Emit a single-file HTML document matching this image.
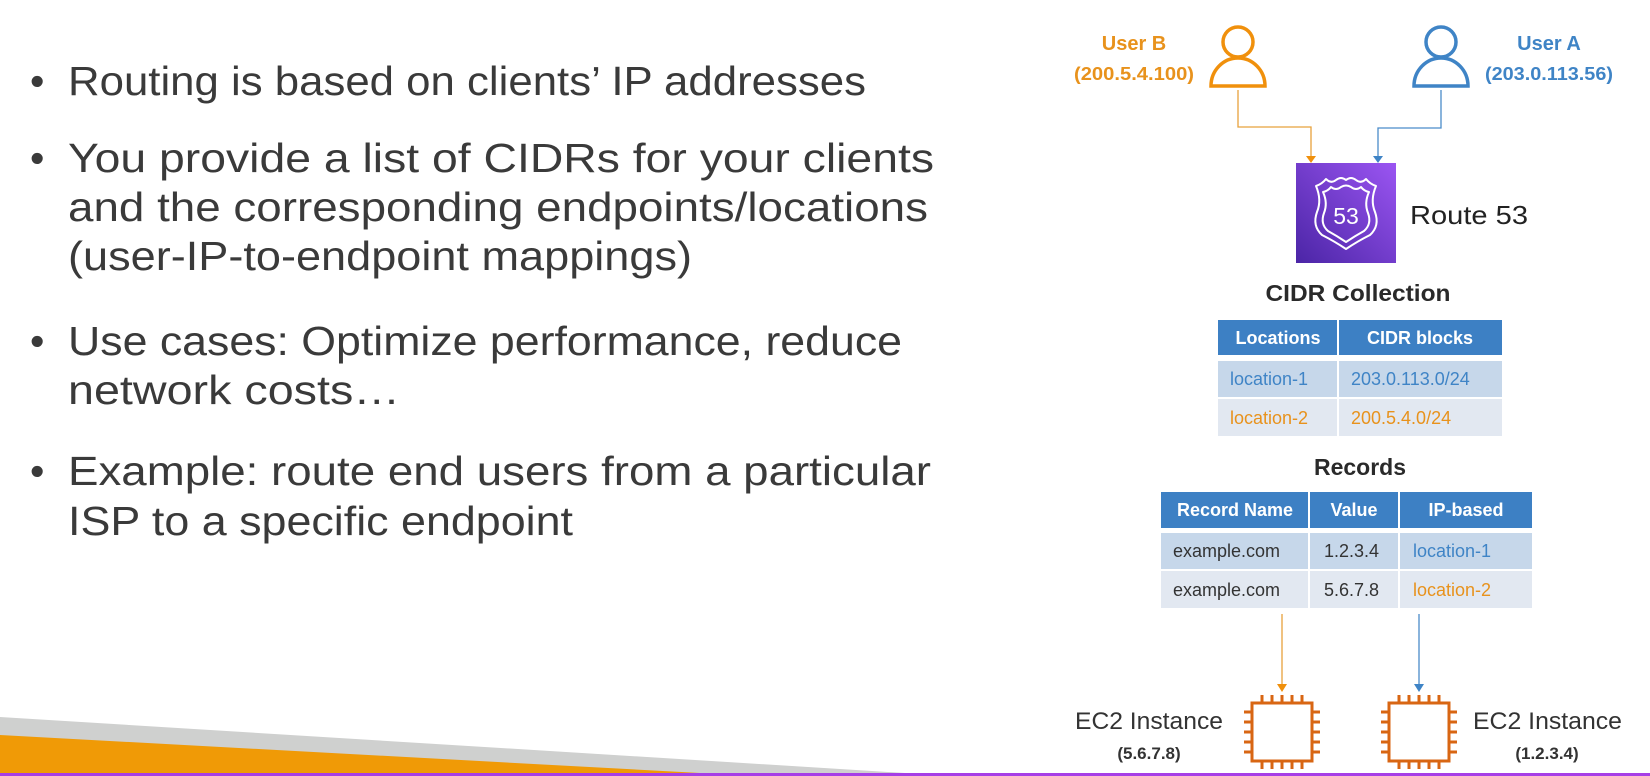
<!DOCTYPE html>
<html><head><meta charset="utf-8"><style>
html,body{margin:0;padding:0;background:#fff;}
svg{display:block;}
text{font-family:"Liberation Sans",sans-serif;}
</style></head><body>
<svg width="1650" height="776" viewBox="0 0 1650 776" xmlns="http://www.w3.org/2000/svg">
<defs>
<linearGradient id="pg" x1="0" y1="1" x2="1" y2="0">
<stop offset="0" stop-color="#4b25a6"/><stop offset="1" stop-color="#9b55f2"/>
</linearGradient>
</defs>
<!-- bottom decoration -->
<polygon points="0,717 905,773 0,773" fill="#cfd0cf"/>
<polygon points="0,735 700,773 0,773" fill="#f09a06"/>

<!-- bullets -->
<g fill="#3a3a3a" font-size="41">
<text x="30" y="95">•</text>
<text x="68" y="95" textLength="798" lengthAdjust="spacingAndGlyphs">Routing is based on clients’ IP addresses</text>
<text x="30" y="172">•</text>
<text x="68" y="172" textLength="866" lengthAdjust="spacingAndGlyphs">You provide a list of CIDRs for your clients</text>
<text x="68" y="221" textLength="860" lengthAdjust="spacingAndGlyphs">and the corresponding endpoints/locations</text>
<text x="68" y="270" textLength="624" lengthAdjust="spacingAndGlyphs">(user-IP-to-endpoint mappings)</text>
<text x="30" y="355">•</text>
<text x="68" y="355" textLength="834" lengthAdjust="spacingAndGlyphs">Use cases: Optimize performance, reduce</text>
<text x="68" y="404" textLength="332" lengthAdjust="spacingAndGlyphs">network costs…</text>
<text x="30" y="485">•</text>
<text x="68" y="485" textLength="863" lengthAdjust="spacingAndGlyphs">Example: route end users from a particular</text>
<text x="68" y="535" textLength="505" lengthAdjust="spacingAndGlyphs">ISP to a specific endpoint</text>
</g>

<!-- users -->
<g font-weight="bold" text-anchor="middle">
<text x="1134" y="50" font-size="20" fill="#e8921c">User B</text>
<text x="1134" y="80" font-size="18" fill="#e8921c" textLength="120" lengthAdjust="spacingAndGlyphs">(200.5.4.100)</text>
<text x="1549" y="50" font-size="20" fill="#3f84c6">User A</text>
<text x="1549" y="80" font-size="18" fill="#3f84c6" textLength="128" lengthAdjust="spacingAndGlyphs">(203.0.113.56)</text>
</g>
<g fill="none" stroke-width="3.5">
<circle cx="1238" cy="42" r="15" stroke="#f0900c"/>
<path d="M1211,86 A27,28 0 0 1 1265,86 Z" stroke="#f0900c"/>
<circle cx="1441" cy="42" r="15" stroke="#3f84c6"/>
<path d="M1414,86 A27,28 0 0 1 1468,86 Z" stroke="#3f84c6"/>
</g>
<!-- connectors -->
<g fill="none" stroke-width="1.3">
<polyline points="1238,90 1238,127 1311,127 1311,157" stroke="#e8a23c"/>
<polyline points="1441,90 1441,128 1378,128 1378,157" stroke="#4a8cc9"/>
<line x1="1282" y1="614" x2="1282" y2="685" stroke="#e8a23c"/>
<line x1="1419" y1="614" x2="1419" y2="685" stroke="#4a8cc9"/>
</g>
<polygon points="1306,156 1316,156 1311,163" fill="#f0900c"/>
<polygon points="1373,156 1383,156 1378,163" fill="#3f84c6"/>
<polygon points="1277,684 1287,684 1282,692" fill="#f0900c"/>
<polygon points="1414,684 1424,684 1419,692" fill="#3f84c6"/>

<!-- Route 53 -->
<rect x="1296" y="163" width="100" height="100" fill="url(#pg)"/>
<g fill="none" stroke="#fff" stroke-width="2" stroke-linejoin="round">
<path d="M1316,186 Q1322,184 1326,179 Q1331,184 1336,180 Q1341,176 1346,180 Q1351,176 1356,180 Q1361,184 1366,179 Q1370,184 1376,186 Q1370,200 1375,212 Q1380,226 1370,235 Q1358,241 1346,249 Q1334,241 1322,235 Q1312,226 1317,212 Q1322,200 1316,186 Z"/>
<path d="M1323,192 Q1328,191 1331,187 Q1336,191 1341,187 Q1346,184 1351,187 Q1356,191 1361,187 Q1364,191 1369,192 Q1364,203 1368,213 Q1372,224 1364,231 Q1355,236 1346,242 Q1337,236 1328,231 Q1320,224 1324,213 Q1328,203 1323,192 Z"/>
</g>
<text x="1346" y="224" font-size="23" fill="#fff" text-anchor="middle">53</text>
<text x="1410" y="224" font-size="26" fill="#222" textLength="118" lengthAdjust="spacingAndGlyphs">Route 53</text>

<!-- CIDR Collection -->
<text x="1358" y="301" font-size="23" font-weight="bold" fill="#2a2a2a" text-anchor="middle" textLength="185" lengthAdjust="spacingAndGlyphs">CIDR Collection</text>
<rect x="1218" y="320" width="119" height="35" fill="#3d80c4"/>
<rect x="1339" y="320" width="163" height="35" fill="#3d80c4"/>
<rect x="1218" y="361" width="119" height="36" fill="#c6d7ea"/>
<rect x="1339" y="361" width="163" height="36" fill="#c6d7ea"/>
<rect x="1218" y="399" width="119" height="37" fill="#e2e8f1"/>
<rect x="1339" y="399" width="163" height="37" fill="#e2e8f1"/>
<g font-size="18">
<text x="1278" y="344" fill="#fff" font-weight="bold" text-anchor="middle">Locations</text>
<text x="1420" y="344" fill="#fff" font-weight="bold" text-anchor="middle">CIDR blocks</text>
<text x="1230" y="385" fill="#3f84c6">location-1</text>
<text x="1351" y="385" fill="#3f84c6">203.0.113.0/24</text>
<text x="1230" y="424" fill="#e8921c">location-2</text>
<text x="1351" y="424" fill="#e8921c">200.5.4.0/24</text>
</g>

<!-- Records -->
<text x="1360" y="475" font-size="23" font-weight="bold" fill="#2a2a2a" text-anchor="middle">Records</text>
<rect x="1161" y="492" width="147" height="36" fill="#3d80c4"/>
<rect x="1310" y="492" width="88" height="36" fill="#3d80c4"/>
<rect x="1400" y="492" width="132" height="36" fill="#3d80c4"/>
<rect x="1161" y="533" width="147" height="36" fill="#c6d7ea"/>
<rect x="1310" y="533" width="88" height="36" fill="#c6d7ea"/>
<rect x="1400" y="533" width="132" height="36" fill="#c6d7ea"/>
<rect x="1161" y="571" width="147" height="37" fill="#e2e8f1"/>
<rect x="1310" y="571" width="88" height="37" fill="#e2e8f1"/>
<rect x="1400" y="571" width="132" height="37" fill="#e2e8f1"/>
<g font-size="18">
<text x="1235" y="516" fill="#fff" font-weight="bold" text-anchor="middle">Record Name</text>
<text x="1354" y="516" fill="#fff" font-weight="bold" text-anchor="middle">Value</text>
<text x="1466" y="516" fill="#fff" font-weight="bold" text-anchor="middle">IP-based</text>
<text x="1173" y="557" fill="#333">example.com</text>
<text x="1324" y="557" fill="#333">1.2.3.4</text>
<text x="1413" y="557" fill="#3f84c6">location-1</text>
<text x="1173" y="596" fill="#333">example.com</text>
<text x="1324" y="596" fill="#333">5.6.7.8</text>
<text x="1413" y="596" fill="#e8921c">location-2</text>
</g>

<!-- EC2 chips -->
<g fill="none" stroke="#d86613" stroke-width="3">
<rect x="1252" y="703" width="60" height="58"/>
<path d="M1262,703v-8M1272,703v-8M1282,703v-8M1292,703v-8M1302,703v-8 M1262,761v8M1272,761v8M1282,761v8M1292,761v8M1302,761v8 M1252,712h-8M1252,722h-8M1252,732h-8M1252,742h-8M1252,752h-8 M1312,712h8M1312,722h8M1312,732h8M1312,742h8M1312,752h8"/>
<rect x="1389" y="703" width="60" height="58"/>
<path d="M1399,703v-8M1409,703v-8M1419,703v-8M1429,703v-8M1439,703v-8 M1399,761v8M1409,761v8M1419,761v8M1429,761v8M1439,761v8 M1389,712h-8M1389,722h-8M1389,732h-8M1389,742h-8M1389,752h-8 M1449,712h8M1449,722h8M1449,732h8M1449,742h8M1449,752h8"/>
</g>
<rect x="0" y="773" width="1650" height="3" fill="#a63ee6"/>
<g fill="#333">
<text x="1075" y="729" font-size="24" textLength="148" lengthAdjust="spacingAndGlyphs">EC2 Instance</text>
<text x="1149" y="759" font-size="17" font-weight="bold" text-anchor="middle">(5.6.7.8)</text>
<text x="1473" y="729" font-size="24" textLength="149" lengthAdjust="spacingAndGlyphs">EC2 Instance</text>
<text x="1547" y="759" font-size="17" font-weight="bold" text-anchor="middle">(1.2.3.4)</text>
</g>
</svg>
</body></html>
